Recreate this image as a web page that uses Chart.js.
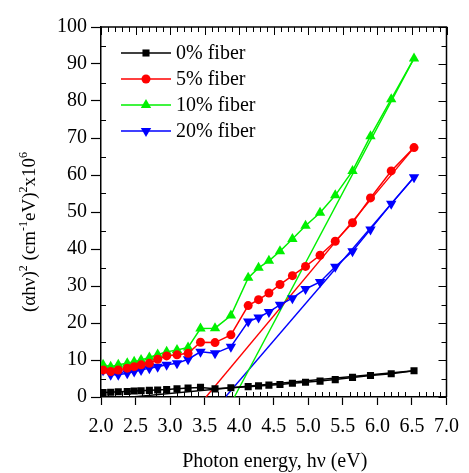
<!DOCTYPE html>
<html>
<head>
<meta charset="utf-8">
<script src="https://cdn.jsdelivr.net/npm/chart.js@4.4.0/dist/chart.umd.min.js"></script>
<style>
  body { margin: 0; background: #fff; }
</style>
</head>
<body>
<canvas id="chart" width="469" height="473"></canvas>
<script>
// photon energy of each measured point (eV)
const energy = [2.03, 2.14, 2.25, 2.38, 2.48, 2.58, 2.70, 2.82, 2.95, 3.10, 3.26, 3.44, 3.65,
                3.88, 4.13, 4.28, 4.43, 4.59, 4.77, 4.96, 5.17, 5.39, 5.64, 5.90, 6.20, 6.53];

// (ahv)^2 x10^6 for each fiber content
const fiber0  = [1.2, 1.3, 1.4, 1.5, 1.6, 1.7, 1.8, 1.9, 2.0, 2.2, 2.4, 2.6, 2.2,
                 2.5, 2.8, 3.0, 3.2, 3.4, 3.7, 4.0, 4.3, 4.7, 5.3, 5.8, 6.3, 7.1];
const fiber5  = [7.3, 6.9, 7.3, 7.8, 8.2, 8.7, 9.1, 10.2, 11.1, 11.4, 11.8, 14.8, 14.7,
                 16.8, 24.7, 26.3, 28.1, 30.4, 32.8, 35.3, 38.3, 42.1, 47.1, 53.8, 61.1, 67.4];
const fiber10 = [8.7, 8.2, 8.7, 9.1, 9.5, 10.0, 10.7, 11.5, 12.2, 12.7, 13.4, 18.5, 18.6,
                 22.0, 32.2, 34.9, 36.8, 39.4, 42.7, 46.3, 49.8, 54.5, 61.1, 70.5, 80.5, 91.5];
const fiber20 = [7.2, 6.0, 6.0, 6.4, 6.9, 7.3, 7.8, 8.2, 8.7, 9.1, 10.2, 12.2, 11.8,
                 13.6, 20.4, 21.5, 23.0, 24.9, 26.7, 29.2, 31.1, 35.2, 39.4, 45.3, 52.2, 59.4];

// linear extrapolation lines (band gap fits)
const fit0X  = [2.45, 6.53], fit0Y  = [0, 7.1];
const fit5X  = [3.52, 6.53], fit5Y  = [0, 67.4];
const fit10X = [3.93, 6.53], fit10Y = [0, 91.5];
const fit20X = [3.80, 6.53], fit20Y = [0, 59.4];

const seriesNames = ['0% fiber', '5% fiber', '10% fiber', '20% fiber'];

const SERIF = '"Liberation Serif", "Times New Roman", serif';

function pts(xs, ys) {
    return xs.map((x, i) => ({ x: x, y: ys[i] }));
}

function series(label, ys, color, style, radius, rotation) {
    return {
        label: label,
        data: pts(energy, ys),
        borderColor: color,
        backgroundColor: color,
        borderWidth: 1.5,
        pointStyle: style,
        pointRadius: radius,
        pointRotation: rotation || 0,
        pointBorderWidth: 0
    };
}

function fitLine(xs, ys, color) {
    return {
        label: '',
        data: pts(xs, ys),
        borderColor: color,
        borderWidth: 1.4,
        pointRadius: 0,
        isFit: true
    };
}

// frame, inward ticks, axis titles, legend
const decorations = {
    id: 'decorations',
    afterDraw(chart) {
        const ctx = chart.ctx;
        const a = chart.chartArea;
        const xs = chart.scales.x, ys = chart.scales.y;
        ctx.save();
        ctx.strokeStyle = '#000';
        ctx.lineWidth = 1.5;
        ctx.beginPath();
        ctx.moveTo(a.left, a.top); ctx.lineTo(a.right, a.top); ctx.lineTo(a.right, a.bottom);
        ctx.stroke();

        ctx.lineWidth = 1;
        ctx.beginPath();
        for (let i = 0; i <= 50; i++) {
            const px = Math.round(xs.getPixelForValue(2 + i * 0.1)) + 0.5;
            const major = i % 5 === 0;
            if (!major) { ctx.moveTo(px, a.bottom); ctx.lineTo(px, a.bottom - 5); }
            ctx.moveTo(px, a.top); ctx.lineTo(px, a.top + (major ? 8 : 5));
        }
        for (let v = 0; v <= 100; v += 5) {
            const py = Math.round(ys.getPixelForValue(v)) + 0.5;
            const major = v % 10 === 0;
            if (!major) { ctx.moveTo(a.left, py); ctx.lineTo(a.left + 5, py); }
            ctx.moveTo(a.right, py); ctx.lineTo(a.right - (major ? 8 : 5), py);
        }
        ctx.stroke();

        // x title
        ctx.fillStyle = '#000';
        ctx.font = '20px ' + SERIF;
        ctx.textAlign = 'center';
        ctx.textBaseline = 'alphabetic';
        ctx.fillText('Photon energy, h\u03bd (eV)', (a.left + a.right) / 2 + 1, 467);

        // y title with superscripts, rotated
        const parts = [['(\u03b1h\u03bd)', 0], ['2', 1], [' (cm', 0], ['-1', 1], ['eV)', 0], ['2', 1], ['x10', 0], ['6', 1]];
        const base = '19px ' + SERIF, sup = '12px ' + SERIF;
        let total = 0;
        parts.forEach(p => { ctx.font = p[1] ? sup : base; total += ctx.measureText(p[0]).width; });
        ctx.translate(35, 232);
        ctx.rotate(-Math.PI / 2);
        ctx.textAlign = 'left';
        let tx = -total / 2;
        parts.forEach(p => {
            ctx.font = p[1] ? sup : base;
            ctx.fillText(p[0], tx, p[1] ? -8 : 0);
            tx += ctx.measureText(p[0]).width;
        });
        ctx.setTransform(1, 0, 0, 1, 0, 0);

        // legend
        ctx.font = '20px ' + SERIF;
        ctx.textAlign = 'left';
        ctx.textBaseline = 'middle';
        chart.data.datasets.filter(d => !d.isFit).forEach((d, i) => {
            const y = a.top + 26 + i * 26;
            ctx.strokeStyle = d.borderColor;
            ctx.fillStyle = d.backgroundColor;
            ctx.lineWidth = 1.5;
            ctx.beginPath();
            ctx.moveTo(a.left + 20, y); ctx.lineTo(a.left + 70, y);
            ctx.stroke();
            Chart.helpers.drawPoint(ctx, {
                pointStyle: d.pointStyle, radius: d.pointRadius,
                rotation: d.pointRotation, borderWidth: 0
            }, a.left + 45, y);
            ctx.fillStyle = '#000';
            ctx.fillText(d.label, a.left + 75, y + 1);
        });
        ctx.restore();
    }
};

const tickFont = { family: SERIF, size: 20 };

new Chart(document.getElementById('chart'), {
    type: 'line',
    data: {
        datasets: [
            series(seriesNames[0], fiber0, '#000000', 'rect', 5),
            series(seriesNames[1], fiber5, '#ff0000', 'circle', 4.5),
            series(seriesNames[2], fiber10, '#00f000', 'triangle', 6),
            series(seriesNames[3], fiber20, '#0000ff', 'triangle', 6, 180),
            fitLine(fit0X, fit0Y, '#000000'),
            fitLine(fit5X, fit5Y, '#ff0000'),
            fitLine(fit10X, fit10Y, '#00f000'),
            fitLine(fit20X, fit20Y, '#0000ff')
        ]
    },
    options: {
        responsive: false,
        animation: false,
        layout: { padding: { top: 27, right: 16, left: 0, bottom: 0 } },
        plugins: { legend: { display: false }, tooltip: { enabled: false } },
        elements: { line: { tension: 0 } },
        scales: {
            x: {
                type: 'linear',
                min: 2, max: 7,
                afterFit: s => { s.height = 76; },
                ticks: { stepSize: 0.5, color: '#000', font: tickFont, padding: 10,
                         maxRotation: 0, callback: v => v.toFixed(1) },
                grid: { drawOnChartArea: false, tickLength: 8, color: '#000', tickWidth: 1.2 },
                border: { color: '#000', width: 1.5 }
            },
            y: {
                min: 0, max: 100,
                afterFit: s => { s.width = 101; },
                ticks: { stepSize: 10, color: '#000', font: tickFont, padding: 4 },
                grid: { drawOnChartArea: false, tickLength: 10, color: '#000', tickWidth: 1.2 },
                border: { color: '#000', width: 1.5 }
            }
        }
    },
    plugins: [decorations]
});
</script>
</body>
</html>
